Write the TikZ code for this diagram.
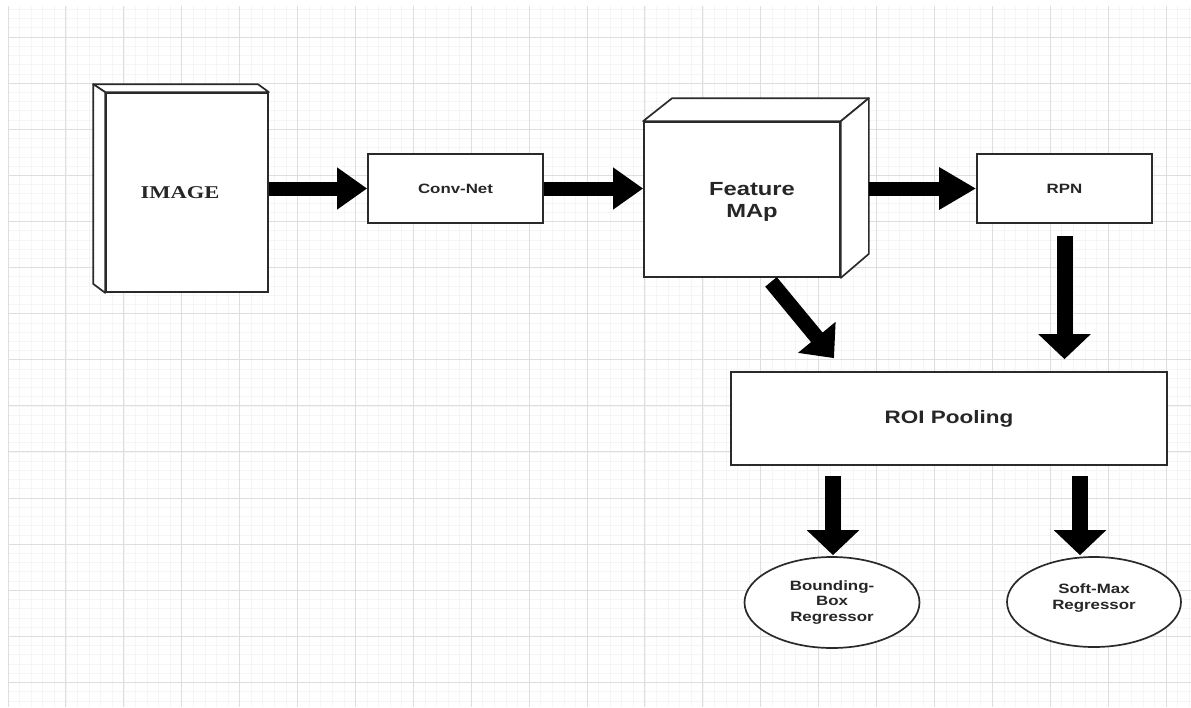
\documentclass[tikz,border=0pt]{standalone}
\usepackage{fontspec}
\setmainfont{Liberation Sans}
\newfontfamily\sansw[FakeStretch=1.25]{Liberation Sans}
\newfontfamily\serifw[FakeStretch=1.25]{Liberation Serif}
\usetikzlibrary{arrows.meta,shapes.geometric,calc}
\definecolor{gridmajor}{HTML}{DEDEDE}
\definecolor{gridminor}{HTML}{F5F5F5}
\definecolor{edgec}{HTML}{2A2A2A}
\definecolor{txt}{HTML}{262626}
\begin{document}
\begin{tikzpicture}[x=1pt,y=-1pt,
  box/.style={draw=edgec, line width=1.7pt, fill=white, inner sep=0pt, rectangle},
  ell/.style={draw=edgec, line width=1.7pt, fill=white, inner sep=0pt, ellipse},
  panel/.style={draw=edgec, line width=1.7pt, fill=white, line join=round},
  lbl/.style={font=\sansw\bfseries\fontsize{13.5}{15.8}\selectfont, text=txt, align=center},
  fatH/.style={line width=14pt, draw=black, -{Triangle[length=30pt,width=40pt]}},
  fatV/.style={line width=16pt, draw=black, -{Triangle[length=25pt,width=51pt]}},
  fatD/.style={line width=15pt, draw=black, -{Triangle[length=27pt,width=47pt]}}
]
\useasboundingbox (0,0) rectangle (1191,707);
\fill[white] (0,0) rectangle (1191,707);
% grid
\foreach \i in {0,...,102} \draw[gridminor, line width=0.6pt] ({8+11.58*\i},6) -- ({8+11.58*\i},707);
\foreach \j in {-3,...,72} \draw[gridminor, line width=0.6pt] (8,{37+9.22*\j}) -- (1191,{37+9.22*\j});
\foreach \i in {0,...,20} \draw[gridmajor, line width=1pt] ({8+57.9*\i},6) -- ({8+57.9*\i},707);
\foreach \j in {0,...,14} \draw[gridmajor, line width=1pt] (8,{37+46.1*\j}) -- (1191,{37+46.1*\j});

% IMAGE 3D box
\node[box, minimum width=162pt, minimum height=199pt] (img) at (187,192.5) {};
\filldraw[panel] (img.north west) -- ++(-12,-8) -- ($(img.north east)+(-11,-8)$) -- (img.north east) -- cycle;
\filldraw[panel] (img.north west) -- ++(-12,-8) -- ($(img.south west)+(-12,-9)$) -- (img.south west) -- cycle;
\node[font=\serifw\bfseries\fontsize{18}{20}\selectfont, text=txt] (imgtxt) at (180,193) {IMAGE};

% Conv-Net
\node[box, minimum width=175pt, minimum height=69pt, lbl] (conv) at (455.5,188.5) {Conv-Net};

% Feature map 3D box
\node[box, minimum width=196pt, minimum height=155pt] (feat) at (742,199.5) {};
\filldraw[panel] (feat.north west) -- ++(29,-23) -- ($(feat.north east)+(28,-23)$) -- (feat.north east) -- cycle;
\filldraw[panel] (feat.north east) -- ++(28,-23) -- ($(feat.south east)+(28,-24)$) -- (feat.south east) -- cycle;
\coordinate (featR) at ($(feat.east)+(28,0)$);
\node[font=\sansw\bfseries\fontsize{19}{22}\selectfont, text=txt, align=center] (feattxt) at (752,202) {Feature\\MAp};

% RPN
\node[box, minimum width=175pt, minimum height=69pt, lbl] (rpn) at (1064.5,188.5) {RPN};

% ROI Pooling
\node[box, minimum width=436pt, minimum height=93pt, font=\sansw\bfseries\fontsize{18}{20}\selectfont, text=txt] (roi) at (949,418.5) {ROI Pooling};

% Ellipses
\node[ell, minimum width=175pt, minimum height=91pt, lbl] (bb) at (832,602.5) {Bounding-\\Box\\Regressor};
\node[ell, minimum width=174pt, minimum height=90pt, lbl] (sm) at (1094,602) {Soft-Max\\Regressor\\[-5.5pt]\mbox{}};

% arrows
\draw[fatH] (conv.west -| img.east) -- (conv.west);
\draw[fatH] (conv.east) -- (conv.east -| feat.west);
\draw[fatH, -{Triangle[length=37pt,width=40pt]}] (rpn.west -| featR) -- (rpn.west);
\draw[fatV, shorten <=12pt, shorten >=12pt] (rpn.south) -- (roi.north -| rpn.south);
\draw[fatD] ($(feat.south)+(29,4)$) -- ($(roi.north)+(-115,-13)$);
\coordinate (bbin) at ($(bb.north)+(1,0)$);
\coordinate (smin) at ($(sm.north)+(-14,0)$);
\draw[fatV, shorten <=10pt, shorten >=1pt] (bbin |- roi.south) -- (bbin);
\draw[fatV, shorten <=10pt, shorten >=1pt] (smin |- roi.south) -- (smin);
\end{tikzpicture}
\end{document}
